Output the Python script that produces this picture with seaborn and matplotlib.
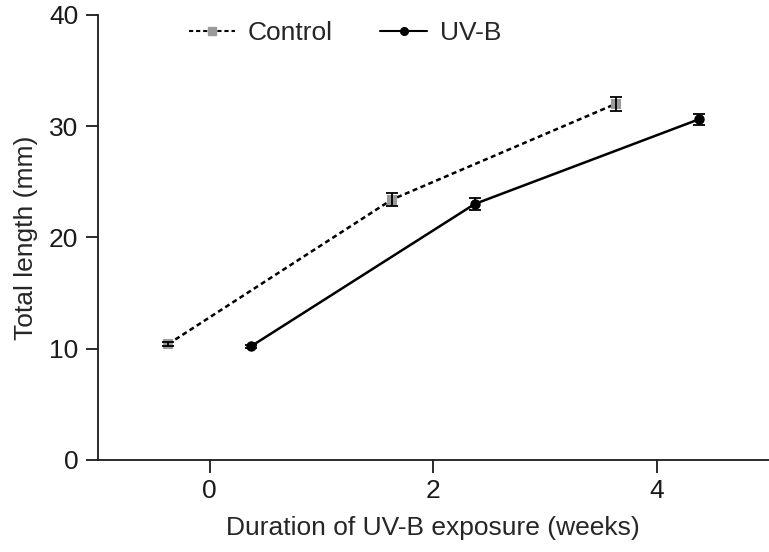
import numpy as np
import pandas as pd
import matplotlib.pyplot as plt
import seaborn as sns

# values
weeks = [0, 2, 4]
control_len = [10.4, 23.4, 32.0]
control_err = [0.2, 0.6, 0.6]
uvb_len = [10.2, 23.0, 30.6]
uvb_err = [0.15, 0.5, 0.5]
groups = ['Control', 'UV-B']

sns.set_style('ticks')
plt.rcParams['font.family'] = ['Liberation Sans', 'DejaVu Sans']

shift = 0.37
df = pd.DataFrame({
    'week': np.concatenate([np.array(weeks) - shift, np.array(weeks) + shift]),
    'length': control_len + uvb_len,
    'err': control_err + uvb_err,
    'group': [groups[0]] * 3 + [groups[1]] * 3,
})

fig = plt.figure(figsize=(7.69, 5.52), dpi=100)
ax = fig.add_axes([0.127, 0.167, 0.873, 0.806])

sns.lineplot(data=df, x='week', y='length', hue='group', style='group',
             palette={'Control': '#9a9a9a', 'UV-B': 'black'},
             dashes={'Control': (2.0, 1.4), 'UV-B': ''},
             markers={'Control': 's', 'UV-B': 'o'},
             markersize=7.5, linewidth=1.8, markeredgewidth=0, ax=ax, legend=False)
# lines in black, markers keep the group colour
for ln in ax.lines:
    ln.set_color('black')
ax.lines[0].set_markerfacecolor('#9a9a9a')
ax.lines[1].set_markerfacecolor('black')

for g in groups:
    sub = df[df['group'] == g]
    ax.errorbar(sub['week'], sub['length'], yerr=sub['err'], fmt='none',
                ecolor='black', elinewidth=1.3, capsize=4, capthick=1.3)

h1, = ax.plot([], [], color='black', ls=(0, (2.0, 1.4)), lw=1.5, marker='s',
              mfc='#9a9a9a', mec='#9a9a9a', ms=6)
h2, = ax.plot([], [], color='black', ls='-', lw=1.5, marker='o',
              mfc='black', mec='black', ms=5.5)
ax.legend([h1, h2], groups, ncol=2, frameon=False, fontsize=19,
          loc='upper left', bbox_to_anchor=(0.1, 1.04), handlelength=1.75,
          columnspacing=1.8, handletextpad=0.5)

ax.set_xlim(-1, 5)
ax.set_ylim(0, 40)
ax.set_xticks(weeks)
ax.set_yticks([0, 10, 20, 30, 40])
ax.tick_params(labelsize=19, length=9, width=1.3, direction='out',
               colors='#1a1a1a', pad=5)
ax.set_xlabel('Duration of UV-B exposure (weeks)', fontsize=19, labelpad=9)
ax.set_ylabel('Total length (mm)', fontsize=19, labelpad=8)
for s in ['left', 'bottom']:
    ax.spines[s].set_linewidth(1.3)
    ax.spines[s].set_color('#1a1a1a')
sns.despine(ax=ax)

fig.savefig('out.png', dpi=100)
